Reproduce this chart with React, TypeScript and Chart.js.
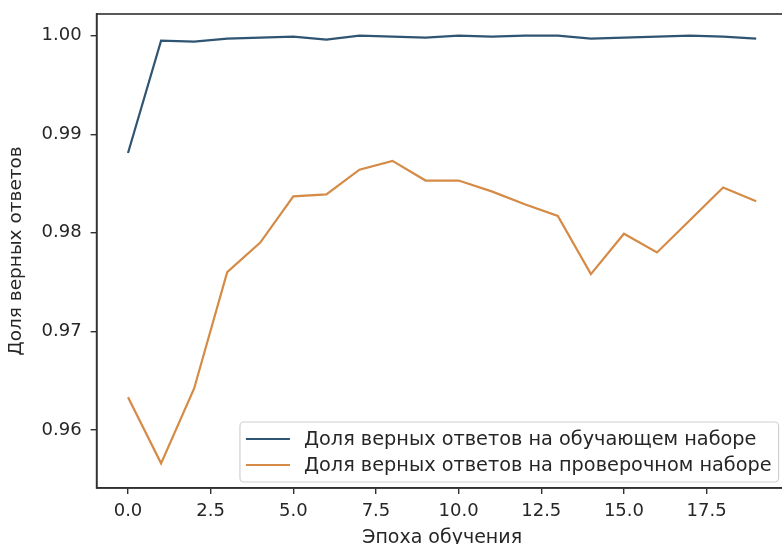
import React, { useEffect, useRef } from "react";
import { Chart, registerables } from "chart.js";

Chart.register(...registerables);

const epochs = [0, 1, 2, 3, 4, 5, 6, 7, 8, 9, 10, 11, 12, 13, 14, 15, 16, 17, 18, 19];
const trainAcc = [
  0.9881, 0.9995, 0.9994, 0.9997, 0.9998, 0.9999, 0.9996, 1.0, 0.9999, 0.9998,
  1.0, 0.9999, 1.0, 1.0, 0.9997, 0.9998, 0.9999, 1.0, 0.9999, 0.9997,
];
const valAcc = [
  0.9633, 0.9566, 0.9642, 0.976, 0.979, 0.9837, 0.9839, 0.9864, 0.9873, 0.9853,
  0.9853, 0.9842, 0.9829, 0.9817, 0.9758, 0.9799, 0.978, 0.9813, 0.9846, 0.9832,
];
const xTicks = [0, 2.5, 5, 7.5, 10, 12.5, 15, 17.5];
const yTicks = [0.96, 0.97, 0.98, 0.99, 1.0];
const seriesLabels = [
  "Доля верных ответов на обучающем наборе",
  "Доля верных ответов на проверочном наборе",
];
const xTitle = "Эпоха обучения";
const yTitle = "Доля верных ответов";

const FONT = "DejaVu Sans";
const TEXT = "#262626";
const AXIS = "#303030";

const framePlugin = {
  id: "frame",
  afterDraw(chart: any) {
    const { ctx, chartArea } = chart;
    ctx.save();
    ctx.strokeStyle = AXIS;
    ctx.lineWidth = 1.6;
    ctx.strokeRect(chartArea.left, chartArea.top, chartArea.right - chartArea.left, chartArea.bottom - chartArea.top);
    ctx.restore();
  },
};

const legendPlugin = {
  id: "mplLegend",
  afterDraw(chart: any) {
    const { ctx, chartArea } = chart;
    const ds = chart.data.datasets;
    ctx.save();
    ctx.font = `19.3px "${FONT}"`;
    const textW = Math.max(...ds.map((d: any) => ctx.measureText(d.label).width));
    const rowH = 26;
    const pad = 6;
    const lineLen = 44;
    const gap = 14;
    const boxW = pad + lineLen + gap + textW + 7;
    const boxH = rowH * ds.length + 8;
    const x = chartArea.right - 9 - boxW;
    const y = chartArea.bottom - 6 - boxH;
    ctx.fillStyle = "rgba(255,255,255,0.85)";
    ctx.strokeStyle = "#d0d0d0";
    ctx.lineWidth = 1.2;
    ctx.beginPath();
    (ctx as any).roundRect(x, y, boxW, boxH, 4);
    ctx.fill();
    ctx.stroke();
    ds.forEach((d: any, i: number) => {
      const cy = y + 4 + rowH * i + rowH / 2;
      ctx.strokeStyle = d.borderColor;
      ctx.lineWidth = 2;
      ctx.beginPath();
      ctx.moveTo(x + pad, cy);
      ctx.lineTo(x + pad + lineLen, cy);
      ctx.stroke();
      ctx.fillStyle = TEXT;
      ctx.textBaseline = "middle";
      ctx.textAlign = "left";
      ctx.fillText(d.label, x + pad + lineLen + gap, cy + 1);
    });
    ctx.restore();
  },
};

export default function App() {
  const ref = useRef<HTMLCanvasElement | null>(null);
  useEffect(() => {
    if (!ref.current) return;
    const chart = new Chart(ref.current, {
      type: "line",
      data: {
        datasets: [
          {
            label: seriesLabels[0],
            data: epochs.map((e, i) => ({ x: e, y: trainAcc[i] })),
            borderColor: "#2f5573",
            borderWidth: 2.2,
            pointRadius: 0,
            tension: 0,
          },
          {
            label: seriesLabels[1],
            data: epochs.map((e, i) => ({ x: e, y: valAcc[i] })),
            borderColor: "#d58a45",
            borderWidth: 2.2,
            pointRadius: 0,
            tension: 0,
          },
        ],
      },
      options: {
        responsive: false,
        animation: false,
        devicePixelRatio: 1,
        layout: { padding: { top: 14, right: 12.4, left: 0, bottom: 0 } },
        plugins: { legend: { display: false }, tooltip: { enabled: false } },
        scales: {
          x: {
            type: "linear",
            min: -0.95,
            max: 19.95,
            afterBuildTicks: (s: any) => {
              s.ticks = xTicks.map((v) => ({ value: v }));
            },
            afterFit: (s: any) => {
              s.height = 56;
              s.paddingLeft = 0;
              s.paddingRight = 0;
            },
            ticks: {
              callback: (v: any) => Number(v).toFixed(1),
              font: { family: FONT, size: 18 },
              color: TEXT,
              padding: 7,
              maxRotation: 0,
              autoSkip: false,
            },
            grid: { display: true, drawOnChartArea: false, drawTicks: true, tickLength: 6, color: AXIS, lineWidth: 1.4 },
            border: { display: true, color: AXIS, width: 1.6 },
            title: {
              display: true,
              text: xTitle,
              font: { family: FONT, size: 19 },
              color: TEXT,
              padding: { top: 0, bottom: -5 },
            },
          },
          y: {
            type: "linear",
            min: 0.9541,
            max: 1.0022,
            afterBuildTicks: (s: any) => {
              s.ticks = yTicks.map((v) => ({ value: v }));
            },
            afterFit: (s: any) => {
              s.width = 96.6;
              s.paddingTop = 0;
              s.paddingBottom = 0;
            },
            ticks: {
              callback: (v: any) => Number(v).toFixed(2),
              font: { family: FONT, size: 18 },
              color: TEXT,
              padding: 9,
              autoSkip: false,
            },
            grid: { display: true, drawOnChartArea: false, drawTicks: true, tickLength: 6, color: AXIS, lineWidth: 1.4 },
            border: { display: true, color: AXIS, width: 1.6 },
            title: {
              display: true,
              text: yTitle,
              font: { family: FONT, size: 18.5 },
              color: TEXT,
              padding: { top: 5, bottom: 0 },
            },
          },
        },
      },
      plugins: [framePlugin, legendPlugin],
    } as any);
    return () => chart.destroy();
  }, []);
  return (
    <div style={{ position: "absolute", left: 0, top: 0, width: 782, height: 544, overflow: "hidden", background: "#fff" }}>
      <canvas ref={ref} width={800} height={544} style={{ width: 800, height: 544, display: "block" }} />
    </div>
  );
}
